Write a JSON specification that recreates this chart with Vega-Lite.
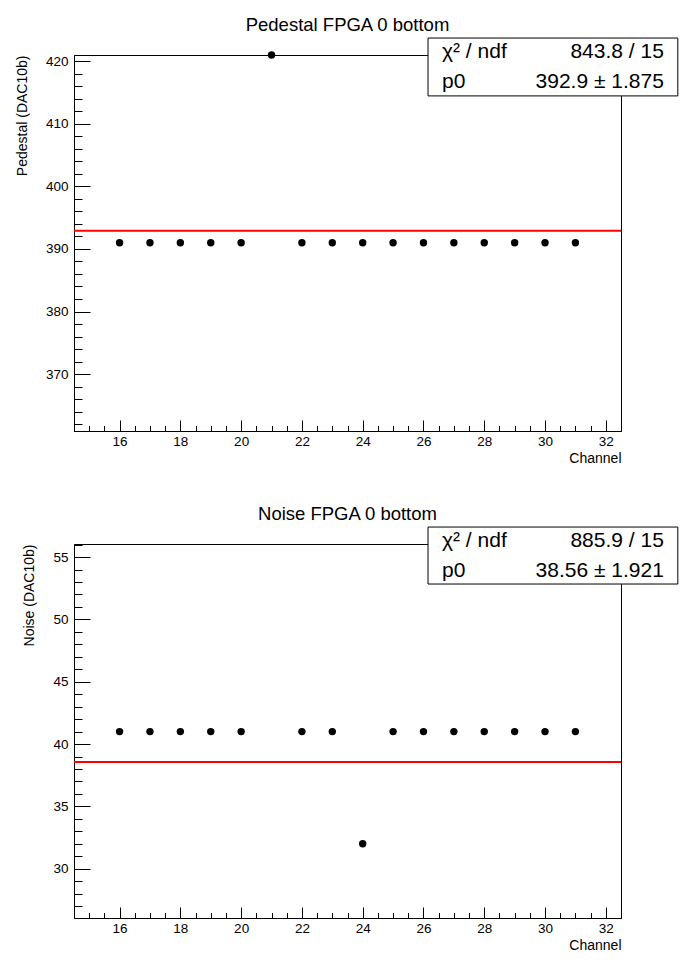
{
  "$schema": "https://vega.github.io/schema/vega-lite/v6.json",
  "background": "white",
  "padding": {"left": 14, "top": 15, "right": 5, "bottom": 5},
  "bounds": "flush",
  "spacing": 113,
  "config": {
    "font": "Liberation Sans",
    "view": {"stroke": "black", "strokeWidth": 1},
    "axis": {"grid": false, "domainColor": "black", "tickColor": "black", "labelColor": "black", "titleColor": "black", "labelFont": "Liberation Sans", "titleFont": "Liberation Sans", "titleFontWeight": "normal", "labelFontSize": 13.5, "titleFontSize": 14},
    "title": {"fontSize": 18.5, "fontWeight": "normal", "font": "Liberation Sans", "color": "black"}
  },
  "datasets": {
    "ped": [
      {"channel": 16, "pedestal": 391}, {"channel": 17, "pedestal": 391}, {"channel": 18, "pedestal": 391}, {"channel": 19, "pedestal": 391},
      {"channel": 20, "pedestal": 391}, {"channel": 21, "pedestal": 421}, {"channel": 22, "pedestal": 391}, {"channel": 23, "pedestal": 391},
      {"channel": 24, "pedestal": 391}, {"channel": 25, "pedestal": 391}, {"channel": 26, "pedestal": 391}, {"channel": 27, "pedestal": 391},
      {"channel": 28, "pedestal": 391}, {"channel": 29, "pedestal": 391}, {"channel": 30, "pedestal": 391}, {"channel": 31, "pedestal": 391}
    ],
    "pedfit": [{"p0": 392.9, "stat1": "χ² / ndf", "val1": "843.8 / 15", "stat2": "p0", "val2": "392.9 ± 1.875"}],
    "noise": [
      {"channel": 16, "noise": 41}, {"channel": 17, "noise": 41}, {"channel": 18, "noise": 41}, {"channel": 19, "noise": 41},
      {"channel": 20, "noise": 41}, {"channel": 22, "noise": 41}, {"channel": 23, "noise": 41},
      {"channel": 24, "noise": 32}, {"channel": 25, "noise": 41}, {"channel": 26, "noise": 41}, {"channel": 27, "noise": 41},
      {"channel": 28, "noise": 41}, {"channel": 29, "noise": 41}, {"channel": 30, "noise": 41}, {"channel": 31, "noise": 41}
    ],
    "noisefit": [{"p0": 38.56, "stat1": "χ² / ndf", "val1": "885.9 / 15", "stat2": "p0", "val2": "38.56 ± 1.921"}]
  },
  "vconcat": [
    {
      "width": 547,
      "height": 376,
      "title": {"text": "Pedestal FPGA 0 bottom", "anchor": "middle", "offset": 3},
      "resolve": {"axis": {"x": "independent", "y": "independent"}},
      "layer": [
        {
          "data": {"name": "ped"},
          "mark": {"type": "circle", "size": 55, "color": "black", "opacity": 1},
          "encoding": {
            "x": {"field": "channel", "type": "quantitative", "scale": {"domain": [14.5, 32.5], "nice": false, "zero": false},
              "axis": {"orient": "bottom", "title": "Channel", "values": [16, 18, 20, 22, 24, 26, 28, 30, 32], "ticks": false, "labelPadding": 3, "titlePadding": 4, "titleAnchor": "end"}},
            "y": {"field": "pedestal", "type": "quantitative", "scale": {"domain": [360.9, 421], "nice": false, "zero": false},
              "axis": {"orient": "left", "title": "Pedestal (DAC10b)", "values": [370, 380, 390, 400, 410, 420], "ticks": false, "labelPadding": 6, "titleAnchor": "end", "titlePadding": 16}}
          }
        },
        {
          "data": {"name": "pedfit"},
          "mark": {"type": "rule", "color": "#ff0000", "strokeWidth": 2},
          "encoding": {"y": {"field": "p0", "type": "quantitative", "axis": null}}
        },
        {
          "data": {"name": "pedfit"},
          "mark": {"type": "rect", "fill": "white", "stroke": "black", "strokeWidth": 1},
          "encoding": {
            "x": {"datum": 26.15, "type": "quantitative", "axis": {"orient": "bottom", "values": [16, 18, 20, 22, 24, 26, 28, 30, 32], "labels": false, "domain": false, "tickSize": -11, "title": null}},
            "x2": {"datum": 34.37},
            "y": {"datum": 423.71, "type": "quantitative", "axis": {"orient": "left", "values": [370, 380, 390, 400, 410, 420], "labels": false, "domain": false, "tickSize": -16, "title": null}},
            "y2": {"datum": 414.46}
          }
        },
        {
          "data": {"name": "pedfit"},
          "mark": {"type": "text", "align": "left", "baseline": "middle", "fontSize": 21, "color": "black"},
          "encoding": {
            "x": {"datum": 26.61, "type": "quantitative", "axis": {"orient": "bottom", "values": [15, 15.5, 16, 16.5, 17, 17.5, 18, 18.5, 19, 19.5, 20, 20.5, 21, 21.5, 22, 22.5, 23, 23.5, 24, 24.5, 25, 25.5, 26, 26.5, 27, 27.5, 28, 28.5, 29, 29.5, 30, 30.5, 31, 31.5, 32, 32.5], "labels": false, "domain": false, "tickSize": -5.5, "title": null}},
            "y": {"datum": 421.48, "type": "quantitative", "axis": {"orient": "left", "values": [362, 364, 366, 368, 370, 372, 374, 376, 378, 380, 382, 384, 386, 388, 390, 392, 394, 396, 398, 400, 402, 404, 406, 408, 410, 412, 414, 416, 418, 420], "labels": false, "domain": false, "tickSize": -8, "title": null}},
            "text": {"field": "stat1", "type": "nominal"}
          }
        },
        {
          "data": {"name": "pedfit"},
          "mark": {"type": "text", "align": "right", "baseline": "middle", "fontSize": 21, "color": "black"},
          "encoding": {
            "x": {"datum": 33.91, "type": "quantitative", "axis": null},
            "y": {"datum": 421.48, "type": "quantitative", "axis": null},
            "text": {"field": "val1", "type": "nominal"}
          }
        },
        {
          "data": {"name": "pedfit"},
          "mark": {"type": "text", "align": "left", "baseline": "middle", "fontSize": 21, "color": "black"},
          "encoding": {
            "x": {"datum": 26.61, "type": "quantitative", "axis": null},
            "y": {"datum": 416.69, "type": "quantitative", "axis": null},
            "text": {"field": "stat2", "type": "nominal"}
          }
        },
        {
          "data": {"name": "pedfit"},
          "mark": {"type": "text", "align": "right", "baseline": "middle", "fontSize": 21, "color": "black"},
          "encoding": {
            "x": {"datum": 33.91, "type": "quantitative", "axis": null},
            "y": {"datum": 416.69, "type": "quantitative", "axis": null},
            "text": {"field": "val2", "type": "nominal"}
          }
        }
      ]
    },
    {
      "width": 547,
      "height": 374,
      "title": {"text": "Noise FPGA 0 bottom", "anchor": "middle", "offset": 3},
      "resolve": {"axis": {"x": "independent", "y": "independent"}},
      "layer": [
        {
          "data": {"name": "noise"},
          "mark": {"type": "circle", "size": 55, "color": "black", "opacity": 1},
          "encoding": {
            "x": {"field": "channel", "type": "quantitative", "scale": {"domain": [14.5, 32.5], "nice": false, "zero": false},
              "axis": {"orient": "bottom", "title": "Channel", "values": [16, 18, 20, 22, 24, 26, 28, 30, 32], "ticks": false, "labelPadding": 3, "titlePadding": 4, "titleAnchor": "end"}},
            "y": {"field": "noise", "type": "quantitative", "scale": {"domain": [26.05, 56.05], "nice": false, "zero": false},
              "axis": {"orient": "left", "title": "Noise (DAC10b)", "values": [30, 35, 40, 45, 50, 55], "ticks": false, "labelPadding": 6, "titleAnchor": "end", "titlePadding": 16}}
          }
        },
        {
          "data": {"name": "noisefit"},
          "mark": {"type": "rule", "color": "#ff0000", "strokeWidth": 2},
          "encoding": {"y": {"field": "p0", "type": "quantitative", "axis": null}}
        },
        {
          "data": {"name": "noisefit"},
          "mark": {"type": "rect", "fill": "white", "stroke": "black", "strokeWidth": 1},
          "encoding": {
            "x": {"datum": 26.15, "type": "quantitative", "axis": {"orient": "bottom", "values": [16, 18, 20, 22, 24, 26, 28, 30, 32], "labels": false, "domain": false, "tickSize": -11, "title": null}},
            "x2": {"datum": 34.37},
            "y": {"datum": 57.41, "type": "quantitative", "axis": {"orient": "left", "values": [30, 35, 40, 45, 50, 55], "labels": false, "domain": false, "tickSize": -16, "title": null}},
            "y2": {"datum": 52.84}
          }
        },
        {
          "data": {"name": "noisefit"},
          "mark": {"type": "text", "align": "left", "baseline": "middle", "fontSize": 21, "color": "black"},
          "encoding": {
            "x": {"datum": 26.61, "type": "quantitative", "axis": {"orient": "bottom", "values": [15, 15.5, 16, 16.5, 17, 17.5, 18, 18.5, 19, 19.5, 20, 20.5, 21, 21.5, 22, 22.5, 23, 23.5, 24, 24.5, 25, 25.5, 26, 26.5, 27, 27.5, 28, 28.5, 29, 29.5, 30, 30.5, 31, 31.5, 32, 32.5], "labels": false, "domain": false, "tickSize": -5.5, "title": null}},
            "y": {"datum": 56.29, "type": "quantitative", "axis": {"orient": "left", "values": [27, 28, 29, 30, 31, 32, 33, 34, 35, 36, 37, 38, 39, 40, 41, 42, 43, 44, 45, 46, 47, 48, 49, 50, 51, 52, 53, 54, 55, 56], "labels": false, "domain": false, "tickSize": -8, "title": null}},
            "text": {"field": "stat1", "type": "nominal"}
          }
        },
        {
          "data": {"name": "noisefit"},
          "mark": {"type": "text", "align": "right", "baseline": "middle", "fontSize": 21, "color": "black"},
          "encoding": {
            "x": {"datum": 33.91, "type": "quantitative", "axis": null},
            "y": {"datum": 56.29, "type": "quantitative", "axis": null},
            "text": {"field": "val1", "type": "nominal"}
          }
        },
        {
          "data": {"name": "noisefit"},
          "mark": {"type": "text", "align": "left", "baseline": "middle", "fontSize": 21, "color": "black"},
          "encoding": {
            "x": {"datum": 26.61, "type": "quantitative", "axis": null},
            "y": {"datum": 53.88, "type": "quantitative", "axis": null},
            "text": {"field": "stat2", "type": "nominal"}
          }
        },
        {
          "data": {"name": "noisefit"},
          "mark": {"type": "text", "align": "right", "baseline": "middle", "fontSize": 21, "color": "black"},
          "encoding": {
            "x": {"datum": 33.91, "type": "quantitative", "axis": null},
            "y": {"datum": 53.88, "type": "quantitative", "axis": null},
            "text": {"field": "val2", "type": "nominal"}
          }
        }
      ]
    }
  ]
}
